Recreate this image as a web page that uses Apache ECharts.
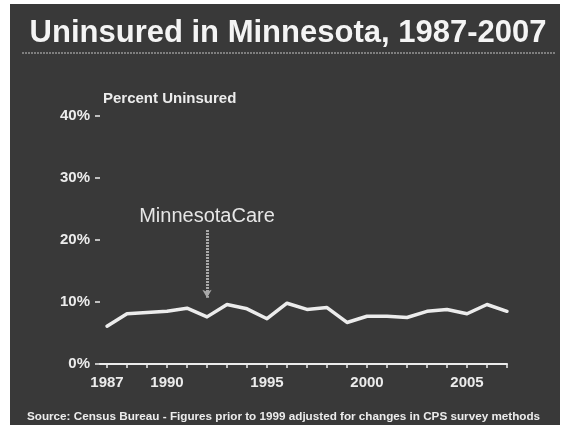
<!DOCTYPE html>
<html>
<head>
<meta charset="utf-8">
<script src="https://cdn.jsdelivr.net/npm/echarts@6/dist/echarts.min.js"></script>
<style>
  html, body { margin: 0; padding: 0; background: #fff; }
  #main { width: 562px; height: 428px; }
</style>
</head>
<body>
<div id="main"></div>
<script>
// uninsured share
var years = [1987, 1988, 1989, 1990, 1991, 1992, 1993, 1994, 1995, 1996, 1997,
             1998, 1999, 2000, 2001, 2002, 2003, 2004, 2005, 2006, 2007];
var uninsured = [6.1, 8.1, 8.3, 8.5, 9.0, 7.6, 9.6, 8.9, 7.3, 9.8, 8.8,
                 9.1, 6.7, 7.7, 7.7, 7.5, 8.5, 8.8, 8.1, 9.6, 8.5];
var yearLabels = [1987, 1990, 1995, 2000, 2005];
var programYear = 1992;
var arrowFrom = 21.6, arrowTo = 10.7;

var ink = '#ececec';
var font = 'Liberation Sans, Arial, sans-serif';

var chart = echarts.init(document.getElementById('main'));

var option = {
  backgroundColor: '#ffffff',
  animation: false,
  graphic: [
    {
      type: 'rect', z: -10, silent: true,
      shape: { x: 10, y: 4, width: 550, height: 421 },
      style: { fill: '#393939' }
    },
    {
      type: 'line', z: 5, silent: true,
      shape: { x1: 22, y1: 53, x2: 555, y2: 53 },
      style: { stroke: '#c4c4c4', lineWidth: 1, lineDash: [2, 1] }
    }
  ],
  title: [
    {
      text: 'Uninsured in Minnesota, 1987-2007',
      left: 283, top: 13, textAlign: 'center',
      textStyle: { color: '#f4f4f4', fontSize: 31, fontWeight: 'bold', fontFamily: font }
    },
    {
      text: 'Percent Uninsured',
      left: 98, top: 86,
      textStyle: { color: ink, fontSize: 15, fontWeight: 'bold', fontFamily: font }
    },
    {
      text: 'Source: Census Bureau - Figures prior to 1999 adjusted for changes in CPS survey methods',
      left: 22, top: 406,
      textStyle: { color: ink, fontSize: 11.7, fontWeight: 'bold', fontFamily: font }
    }
  ],
  grid: { left: 100, right: 55, top: 116, bottom: 64 },
  xAxis: {
    type: 'value',
    min: 1986.65,
    max: 2007,
    splitLine: { show: false },
    axisLine: { show: true, onZero: false, lineStyle: { color: ink, width: 2 } },
    axisTick: {
      show: true, length: 4, customValues: years,
      lineStyle: { color: ink, width: 1.5 }
    },
    axisLabel: {
      customValues: yearLabels,
      margin: 11,
      color: ink, fontSize: 15, fontWeight: 'bold', fontFamily: font,
      formatter: function (v) { return String(Math.round(v)); }
    }
  },
  yAxis: {
    type: 'value',
    min: 0, max: 40, interval: 10,
    splitLine: { show: false },
    axisLine: { show: false },
    axisTick: { show: true, length: 5, lineStyle: { color: ink, width: 1.5 } },
    axisLabel: {
      margin: 10,
      color: ink, fontSize: 15, fontWeight: 'bold', fontFamily: font,
      formatter: '{value}%'
    }
  },
  series: [
    {
      type: 'line',
      data: years.map(function (y, i) { return [y, uninsured[i]]; }),
      showSymbol: false,
      lineStyle: { color: ink, width: 3.5, join: 'round', cap: 'round' },
      markLine: {
        silent: true,
        symbol: ['none', 'arrow'],
        symbolSize: [7, 8],
        lineStyle: { color: '#a9a9a9', width: 3, type: [2, 1] },
        label: {
          show: true, position: 'start', distance: 4,
          formatter: 'MinnesotaCare',
          color: '#e6e6e6', fontSize: 20, fontFamily: font
        },
        data: [[{ coord: [programYear, arrowFrom] }, { coord: [programYear, arrowTo] }]]
      }
    }
  ]
};

chart.setOption(option);
</script>
</body>
</html>
